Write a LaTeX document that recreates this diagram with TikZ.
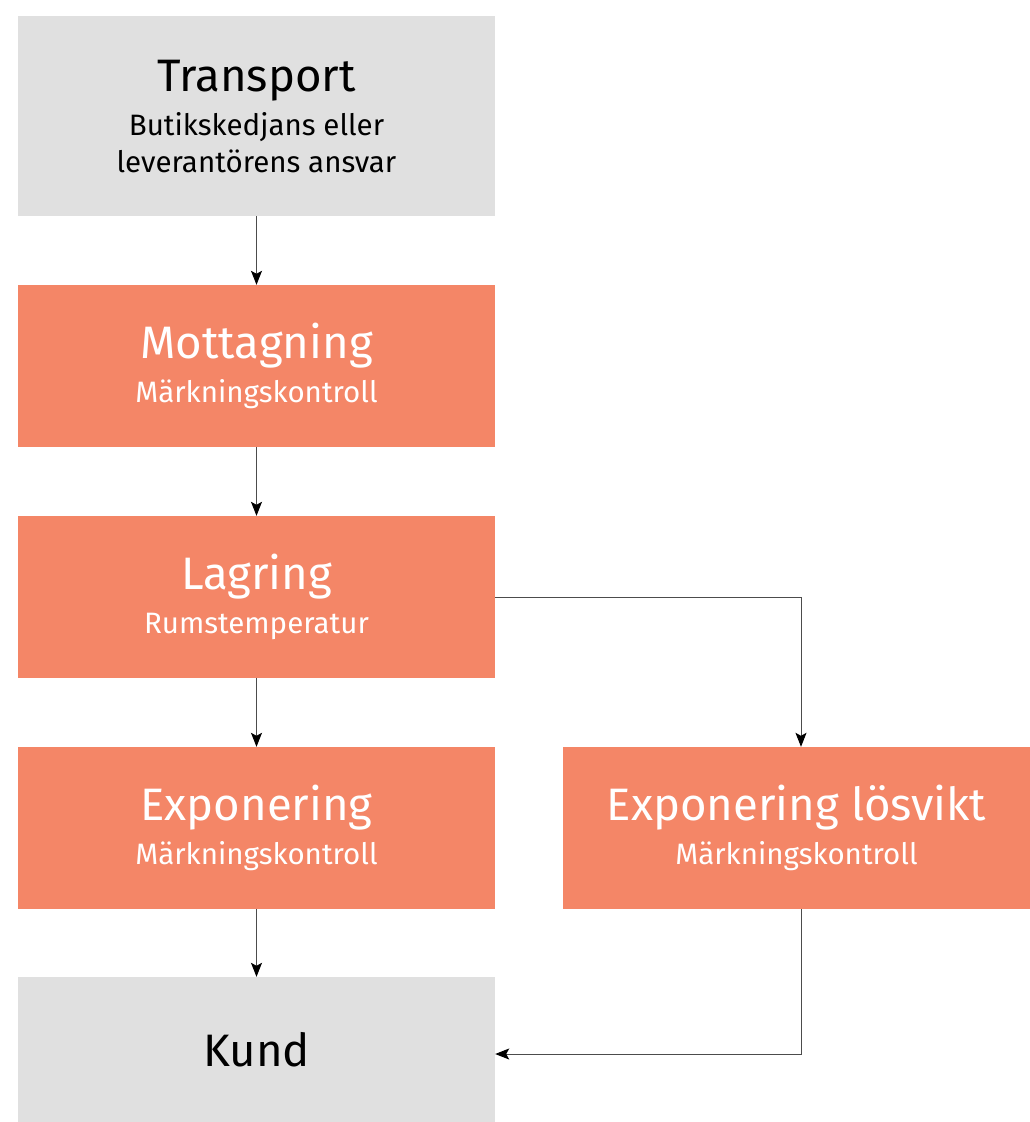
\documentclass[tikz,border=0pt]{standalone}
\usepackage{fontspec}
\setmainfont{Fira Sans}
\usetikzlibrary{arrows.meta}
\definecolor{boxgray}{HTML}{E0E0E0}
\definecolor{salmon}{HTML}{F48667}
\newcommand{\headfont}{\fontsize{45.5}{52}\selectfont}
\newcommand{\subfont}{\fontsize{29.5}{37}\selectfont}
\begin{document}
\begin{tikzpicture}[x=1pt,y=-1pt,
    grayblock/.style={fill=boxgray, text=black, minimum width=477pt, inner sep=0pt, align=center, font=\subfont},
    stepblock/.style={fill=salmon, text=white, minimum width=477pt, minimum height=162pt, inner sep=0pt, align=center, font=\subfont},
    flow/.style={draw=black!70, line width=1pt, -{Stealth[length=14pt,width=11pt,inset=3pt,color=black]}}]
    \useasboundingbox (0,0) rectangle (1030,1122);
    \node[grayblock, minimum height=200pt] (transport) at (256.5,116) {{\headfont Transport}\\[7pt]Butikskedjans eller\\leverantörens ansvar};
    \node[stepblock] (mottagning) at (256.5,366) {{\headfont Mottagning}\\[7pt]Märkningskontroll};
    \node[stepblock] (lagring) at (256.5,597) {{\headfont Lagring}\\[7pt]Rumstemperatur};
    \node[stepblock] (exponering) at (256.5,828) {{\headfont Exponering}\\[7pt]Märkningskontroll};
    \node[stepblock, minimum width=467pt] (losvikt) at (796.5,828) {{\headfont Exponering lösvikt}\\[7pt]Märkningskontroll};
    \node[grayblock, minimum height=145pt] (kund) at (256.5,1049.5) {\headfont Kund};
    \draw[flow] (transport) -- (mottagning);
    \draw[flow] (mottagning) -- (lagring);
    \draw[flow] (lagring) -- (exponering);
    \draw[flow] (exponering) -- (kund);
    \draw[flow] (lagring.east) -| ([xshift=4.5pt]losvikt.north);
    \draw[flow] ([xshift=4.5pt]losvikt.south) |- ([yshift=-4.5pt]kund.east);
\end{tikzpicture}
\end{document}
